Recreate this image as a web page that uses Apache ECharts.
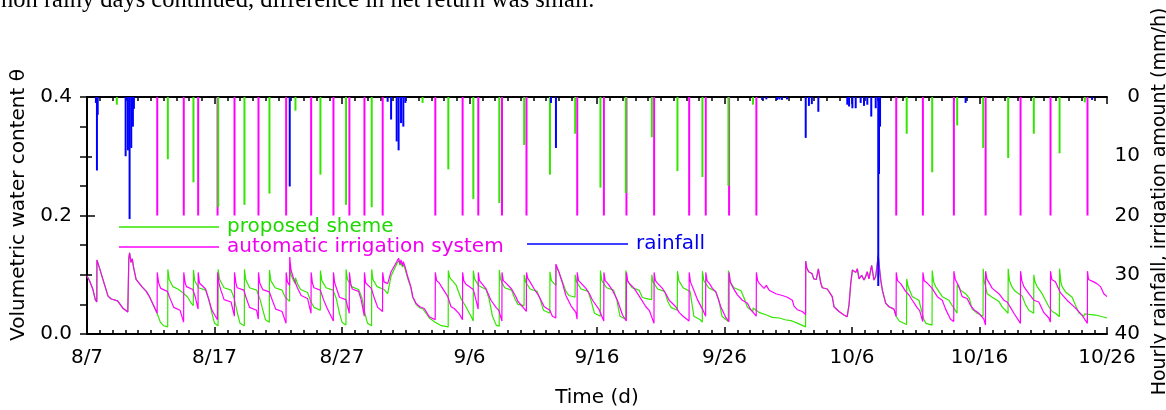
<!DOCTYPE html>
<html><head><meta charset="utf-8">
<script src="https://cdn.jsdelivr.net/npm/echarts@6/dist/echarts.min.js"></script>
<style>html,body{margin:0;padding:0;background:#fff}#c{width:1166px;height:410px}</style>
</head><body><div id="c"></div>
<script>
// x values are days since 8/7
const xTickLabels = ['8/7','8/17','8/27','9/6','9/16','9/26','10/6','10/16','10/26'];

const autoIrrigation = [[5.51,20],[7.59,20],[8.72,20],[10.24,20],[11.57,20],[13.45,20],[15.62,20],[17.58,20],[19.33,20],[20.58,20],[21.76,20],[23.19,20],[27.32,20],[29.46,20],[30.69,20],[32.55,20],[34.47,20],[38.45,20],[40.54,20],[42.31,20],[44.48,20],[47.23,20],[48.53,20],[50.36,20],[52.50,20],[63.47,20],[65.56,20],[67.99,20],[70.48,20],[73.22,20],[75.57,20],[78.47,20]];

const proposedIrrigation = [[2.34,1.3],[6.34,10.5],[8.35,14.4],[10.29,18.6],[12.35,18.2],[14.31,16.3],[16.35,2.3],[18.31,13.1],[20.32,18.2],[22.33,18.6],[26.32,1.0],[28.34,12.2],[30.30,17.2],[32.34,17.9],[34.29,8.1],[36.31,13.1],[38.29,6.2],[40.27,15.3],[42.26,16.2],[44.30,6.8],[46.31,12.5],[48.27,13.5],[50.31,15.0],[52.24,1.3],[64.29,6.2],[66.29,12.7],[68.25,4.8],[70.29,8.6],[72.25,10.3],[74.26,6.2],[76.28,9.5],[78.26,0.9]];

const rainfall = [[0.70,1.0],[0.78,12.4],[0.84,3.0],[3.03,10.0],[3.21,9.0],[3.34,20.6],[3.47,8.6],[3.60,5.0],[3.68,2.0],[15.90,15.1],[23.58,0.8],[23.85,3.8],[24.29,7.5],[24.44,9.0],[24.63,4.4],[24.81,5.0],[24.97,1.0],[36.39,1.0],[36.78,8.6],[52.95,0.5],[53.28,0.4],[54.12,0.5],[54.30,0.4],[54.50,0.5],[54.90,0.4],[56.37,6.9],[56.62,1.5],[56.85,1.2],[57.36,2.5],[59.63,1.3],[59.77,1.6],[60.03,1.9],[60.29,1.9],[60.68,1.0],[60.94,1.5],[61.20,1.3],[61.51,3.3],[61.86,1.9],[62.06,31.9],[62.12,13.0],[62.20,5.0],[68.91,1.0],[78.83,0.5]];

const thetaSharedStart = [[0,0.098],[0.2,0.090],[0.45,0.076],[0.65,0.058],[0.77,0.054],[0.78,0.125],[1.0,0.110],[1.35,0.085],[1.65,0.064],[1.9,0.059],[2.4,0.056],[2.8,0.044],[3.2,0.037],[3.28,0.128],[3.34,0.137],[3.45,0.121],[3.55,0.127],[3.65,0.113],[3.85,0.092],[4.3,0.080],[4.65,0.072],[4.9,0.063],[5.25,0.047],[5.5,0.035]];

const thetaSharedRain = [[56.37,0.123],[56.45,0.112],[56.6,0.105],[56.86,0.102],[57.0,0.093],[57.2,0.092],[57.36,0.110],[57.55,0.086],[57.67,0.078],[58.06,0.076],[58.45,0.063],[58.59,0.046],[58.98,0.038],[59.37,0.032],[59.62,0.029],[59.77,0.050],[59.9,0.085],[60.03,0.108],[60.29,0.104],[60.42,0.110],[60.55,0.093],[60.76,0.099],[60.94,0.091],[61.07,0.097],[61.2,0.105],[61.33,0.093],[61.54,0.116],[61.72,0.091],[61.86,0.097],[62.06,0.133],[62.12,0.118],[62.25,0.092],[62.38,0.074],[62.64,0.052],[62.9,0.046],[63.29,0.042],[63.46,0.030]];

const autoThetaA = [[5.51,0.104],[5.62,0.086],[5.78,0.077],[6.3,0.072],[6.55,0.058],[6.8,0.045],[7.3,0.040],[7.58,0.020],
[7.59,0.104],[7.7,0.086],[7.8,0.080],[8.3,0.075],[8.5,0.062],[8.71,0.042],
[8.72,0.104],[8.82,0.086],[9.3,0.076],[9.5,0.062],[9.8,0.040],[10.23,0.024],
[10.24,0.104],[10.35,0.086],[10.5,0.074],[10.75,0.058],[11.3,0.054],[11.56,0.030],
[11.57,0.104],[11.68,0.086],[11.78,0.078],[12.3,0.074],[12.5,0.060],[12.75,0.045],[13.3,0.040],[13.44,0.025],
[13.45,0.104],[13.55,0.086],[13.78,0.075],[14.3,0.071],[14.55,0.056],[14.8,0.042],[15.3,0.038],[15.61,0.018],
[15.62,0.104],[15.72,0.088],[15.89,0.082],[15.9,0.130],[16.0,0.108],[16.2,0.094],[16.5,0.078],[16.8,0.065],[17.3,0.060],[17.57,0.035],
[17.58,0.104],[17.68,0.086],[17.8,0.078],[18.3,0.074],[18.55,0.058],[18.8,0.045],[19.32,0.022],
[19.33,0.104],[19.43,0.086],[19.6,0.075],[19.8,0.062],[20.3,0.058],[20.57,0.035],
[20.58,0.104],[20.68,0.086],[20.8,0.076],[21.3,0.072],[21.5,0.058],[21.75,0.030],
[21.76,0.104],[21.86,0.086],[22.3,0.077],[22.5,0.063],[22.8,0.045],[23.18,0.038],
[23.19,0.104],[23.3,0.088],[23.58,0.085],[23.85,0.105],[24.29,0.122],[24.44,0.128],[24.55,0.118],[24.63,0.125],[24.75,0.115],[24.81,0.122],[24.97,0.112],[25.15,0.097],[25.4,0.080],[25.55,0.063],[25.8,0.052],[26.1,0.046],[26.45,0.043],[26.85,0.029],[27.31,0.024],
[27.32,0.104],[27.42,0.090],[27.63,0.086],[27.8,0.080],[28.3,0.063],[28.55,0.046],[28.8,0.043],[29.2,0.034],[29.45,0.024],
[29.46,0.104],[29.55,0.090],[29.72,0.084],[30.3,0.075],[30.5,0.058],[30.68,0.042],
[30.69,0.104],[30.78,0.090],[30.9,0.087],[31.3,0.076],[31.68,0.057],[32.08,0.045],[32.3,0.040],[32.54,0.022],
[32.55,0.104],[32.65,0.090],[32.86,0.086],[33.3,0.076],[33.64,0.063],[33.8,0.055],[34.16,0.046],[34.46,0.038],
[34.47,0.104],[34.57,0.094],[34.69,0.090],[35.08,0.076],[35.47,0.063],[35.86,0.046],[36.3,0.040],[36.5,0.030],[36.77,0.027],[36.78,0.118],[36.9,0.115],[37.04,0.103],[37.3,0.085],[37.56,0.065],[37.95,0.048],[38.35,0.036],[38.44,0.025],
[38.45,0.104],[38.55,0.090],[38.74,0.086],[39.13,0.077],[39.4,0.068],[39.65,0.057],[40.17,0.041],[40.53,0.022],
[40.54,0.104],[40.64,0.090],[40.82,0.086],[41.21,0.074],[41.6,0.057],[42.0,0.032],[42.3,0.022],
[42.31,0.104],[42.4,0.090],[42.52,0.086],[42.92,0.077],[43.31,0.064],[43.83,0.046],[44.1,0.040],[44.47,0.018],
[44.48,0.104],[44.58,0.090],[44.74,0.086],[45.13,0.077],[45.4,0.068],[45.66,0.057],[46.18,0.046],[46.45,0.036],[46.75,0.030],[47.22,0.022],
[47.23,0.104],[47.33,0.088],[47.48,0.080],[47.7,0.068],[47.88,0.058],[48.27,0.042],[48.52,0.030],
[48.53,0.104],[48.63,0.090],[48.79,0.086],[49.05,0.077],[49.32,0.071],[49.71,0.046],[50.1,0.028],[50.35,0.021],
[50.36,0.104],[50.46,0.088],[50.62,0.080],[51.01,0.066],[51.4,0.057],[51.8,0.052],[52.06,0.041],[52.49,0.030],
[52.5,0.104],[52.6,0.090],[52.71,0.086],[53.1,0.077],[53.2,0.076],[53.28,0.082],[53.5,0.074],[54.02,0.068],[54.54,0.065],[54.93,0.062],[55.32,0.057],[55.45,0.047],[55.71,0.041],[56.1,0.038],[56.36,0.033]];

const autoThetaB = [[63.47,0.104],[63.57,0.090],[63.82,0.085],[64.21,0.072],[64.5,0.065],[64.73,0.057],[65.12,0.044],[65.3,0.040],[65.55,0.021],
[65.56,0.104],[65.66,0.090],[65.9,0.086],[66.29,0.077],[66.69,0.063],[67.08,0.057],[67.34,0.042],[67.73,0.025],[67.98,0.021],
[67.99,0.106],[68.1,0.092],[68.39,0.080],[68.64,0.063],[69.03,0.060],[69.3,0.048],[69.56,0.041],[69.95,0.035],[70.34,0.025],[70.47,0.015],
[70.48,0.106],[70.58,0.093],[70.73,0.090],[71.0,0.077],[71.52,0.068],[71.91,0.057],[72.17,0.054],[72.45,0.044],[72.7,0.035],[73.21,0.018],
[73.22,0.106],[73.32,0.090],[73.48,0.080],[73.87,0.068],[74.26,0.057],[74.65,0.054],[75.05,0.036],[75.44,0.027],[75.56,0.020],
[75.57,0.106],[75.67,0.092],[75.95,0.088],[76.34,0.070],[76.86,0.057],[77.37,0.047],[77.7,0.040],[78.03,0.032],[78.46,0.018],
[78.47,0.106],[78.55,0.092],[78.7,0.091],[78.96,0.088],[79.2,0.085],[79.49,0.080],[79.75,0.068],[80,0.063]];

const proposedThetaA = [[5.55,0.032],[5.75,0.020],[6.0,0.014],[6.33,0.012],
[6.34,0.109],[6.45,0.092],[6.73,0.080],[7.12,0.076],[7.5,0.070],[7.9,0.062],[8.17,0.052],[8.34,0.048],
[8.35,0.108],[8.45,0.090],[8.75,0.078],[9.3,0.074],[9.55,0.058],[9.8,0.035],[10.0,0.018],[10.28,0.014],
[10.29,0.109],[10.4,0.092],[10.75,0.078],[11.3,0.074],[11.55,0.060],[11.8,0.035],[12.0,0.018],[12.34,0.014],
[12.35,0.109],[12.45,0.092],[12.75,0.078],[13.3,0.074],[13.55,0.060],[13.8,0.040],[14.0,0.024],[14.3,0.020],
[14.31,0.108],[14.42,0.090],[14.75,0.078],[15.3,0.074],[15.55,0.062],[15.89,0.055],
[15.9,0.118],[16.0,0.100],[16.2,0.090],[16.34,0.085],[16.35,0.095],[16.5,0.085],[16.75,0.075],[17.3,0.070],[17.55,0.055],[17.8,0.045],[18.3,0.040],
[18.31,0.107],[18.42,0.090],[18.75,0.078],[19.3,0.074],[19.55,0.060],[19.8,0.035],[20.0,0.020],[20.31,0.015],
[20.32,0.109],[20.43,0.092],[20.75,0.080],[21.3,0.075],[21.55,0.062],[21.8,0.035],[22.0,0.018],[22.32,0.014],
[22.33,0.109],[22.43,0.092],[22.75,0.080],[23.3,0.075],[23.58,0.068],[23.85,0.098],[24.29,0.118],[24.44,0.124],[24.55,0.116],[24.63,0.121],[24.75,0.113],[24.81,0.118],[24.97,0.108],[25.15,0.094],[25.4,0.078],[25.55,0.062],[25.8,0.050],[26.1,0.044],[26.32,0.043],[26.45,0.042],[26.85,0.027],[27.3,0.020],[27.8,0.014],[28.33,0.012],
[28.34,0.107],[28.45,0.095],[28.55,0.093],[28.94,0.083],[29.33,0.060],[29.72,0.046],[30.12,0.030],[30.29,0.022],
[30.30,0.107],[30.4,0.093],[30.7,0.082],[31.3,0.075],[31.55,0.058],[31.8,0.030],[32.1,0.015],[32.33,0.013],
[32.34,0.108],[32.44,0.092],[32.75,0.078],[33.3,0.074],[33.55,0.060],[33.8,0.050],[34.28,0.048],
[34.29,0.100],[34.4,0.088],[34.75,0.076],[35.3,0.072],[35.55,0.058],[35.8,0.040],[36.3,0.035],
[36.31,0.105],[36.42,0.090],[36.77,0.082],[36.78,0.115],[36.85,0.118],[37.0,0.105],[37.3,0.088],[37.56,0.072],[37.8,0.065],[38.28,0.062],
[38.29,0.100],[38.4,0.088],[38.75,0.076],[39.3,0.072],[39.55,0.055],[39.8,0.035],[40.26,0.030],
[40.27,0.107],[40.38,0.090],[40.75,0.078],[41.3,0.074],[41.55,0.058],[41.8,0.030],[42.25,0.025],
[42.26,0.107],[42.37,0.090],[42.75,0.078],[43.3,0.074],[43.55,0.062],[43.8,0.060],[44.29,0.058],
[44.30,0.100],[44.4,0.088],[44.75,0.076],[45.3,0.072],[45.55,0.055],[45.8,0.045],[46.3,0.040],
[46.31,0.106],[46.42,0.090],[46.75,0.078],[47.3,0.072],[47.6,0.030],[48.1,0.024],[48.26,0.020],
[48.27,0.106],[48.38,0.090],[48.75,0.078],[49.3,0.072],[49.55,0.058],[49.8,0.030],[50.3,0.021],
[50.31,0.107],[50.42,0.088],[50.75,0.078],[51.3,0.073],[51.55,0.060],[51.8,0.045],[52.23,0.038],
[52.24,0.044],[52.5,0.040],[52.75,0.036],[53.3,0.032],[53.75,0.028],[54.3,0.027],[54.75,0.024],[55.3,0.022],[55.75,0.018],[56.36,0.012]];

const proposedThetaB = [[63.7,0.022],[64.28,0.016],[64.29,0.093],[64.4,0.080],[64.73,0.063],[65.25,0.057],[65.64,0.024],[65.8,0.018],[66.28,0.015],
[66.29,0.107],[66.4,0.088],[66.56,0.080],[67.08,0.063],[67.6,0.057],[67.8,0.050],[68.24,0.035],
[68.25,0.083],[68.52,0.074],[68.91,0.068],[69.2,0.060],[69.43,0.042],[69.75,0.036],[70.28,0.030],
[70.29,0.110],[70.36,0.090],[70.6,0.068],[71.0,0.062],[71.52,0.055],[71.8,0.045],[72.04,0.040],[72.24,0.035],
[72.25,0.110],[72.35,0.090],[72.56,0.079],[72.8,0.072],[73.34,0.064],[73.6,0.050],[73.87,0.040],[74.25,0.035],
[74.26,0.100],[74.35,0.088],[74.52,0.080],[74.91,0.068],[75.44,0.046],[75.7,0.038],[75.96,0.035],[76.27,0.029],
[76.28,0.110],[76.38,0.088],[76.48,0.080],[76.75,0.071],[77.27,0.062],[77.5,0.050],[77.79,0.036],[78.18,0.030],[78.26,0.034],[78.6,0.033],[79.1,0.032],[79.5,0.030],[80,0.027]];

const autoTheta = thetaSharedStart.concat(autoThetaA, thetaSharedRain, autoThetaB);
const proposedTheta = thetaSharedStart.concat(proposedThetaA, thetaSharedRain, proposedThetaB);

const GREEN = '#33e600', MAGENTA = '#ff00ff', BLUE = '#0000ff';
const FONT = '"DejaVu Sans", "Liberation Sans", Arial, sans-serif';

const chart = echarts.init(document.getElementById('c'), null, {renderer: 'canvas'});
const tickCommon = {
  axisLine: {show: true, lineStyle: {color: '#000', width: 2}},
  splitLine: {show: false}
};
chart.setOption({
  animation: false,
  backgroundColor: '#fff',
  textStyle: {fontFamily: FONT},
  grid: {left: 87, right: 59, top: 97, bottom: 76, containLabel: false, outerBoundsMode: 'none'},
  graphic: [{
    type: 'text', x: 1, y: 1,
    style: {text: 'non rainy days continued, difference in net return was small.', font: '24.5px "Liberation Serif", "Times New Roman", serif', fill: '#000', verticalAlign: 'middle'}
  }],
  legend: [{
    orient: 'vertical', left: 119, top: 217, padding: 0, itemWidth: 100, itemHeight: 1.5, itemGap: 0,
    icon: 'rect', selectedMode: false,
    textStyle: {fontSize: 20, fontFamily: FONT, lineHeight: 20, padding: [0, 0, 0, 3]},
    data: [{name: 'proposed sheme', textStyle: {color: '#1ed900'}}, {name: 'automatic irrigation system', textStyle: {color: '#f000f0'}}]
  }, {
    orient: 'horizontal', left: 527, top: 234, padding: 0, itemWidth: 101, itemHeight: 1.5,
    icon: 'rect', selectedMode: false,
    textStyle: {fontSize: 20, fontFamily: FONT, lineHeight: 20, padding: [0, 0, 0, 3]},
    data: [{name: 'rainfall', textStyle: {color: '#0000ee'}}]
  }],
  xAxis: [{
    type: 'value', position: 'bottom', min: 0, max: 80, interval: 10,
    ...tickCommon,
    axisTick: {show: true, inside: true, length: 7, lineStyle: {color: '#000', width: 1.5}},
    minorTick: {show: true, splitNumber: 10, length: 4, lineStyle: {color: '#000', width: 1.5}},
    axisLabel: {show: true, color: '#000', fontSize: 20, margin: 14, formatter: v => xTickLabels[Math.round(v / 10)]},
    name: 'Time (d)', nameLocation: 'middle', nameGap: 54,
    nameTextStyle: {color: '#000', fontSize: 20}
  }, {
    type: 'value', position: 'top', min: 0, max: 80, interval: 10,
    ...tickCommon,
    axisTick: {show: true, inside: true, length: 7, lineStyle: {color: '#000', width: 1.5}},
    minorTick: {show: true, splitNumber: 10, length: 4, lineStyle: {color: '#000', width: 1.5}},
    axisLabel: {show: false}
  }],
  yAxis: [{
    type: 'value', position: 'left', min: 0, max: 0.4, interval: 0.2,
    ...tickCommon,
    axisTick: {show: true, inside: true, length: 8, lineStyle: {color: '#000', width: 1.5}},
    minorTick: {show: true, splitNumber: 2, length: 5, lineStyle: {color: '#000', width: 1.5}},
    axisLabel: {color: '#000', fontSize: 20, margin: 15, formatter: v => v.toFixed(1)},
    name: 'Volumetric water content θ', nameLocation: 'middle', nameGap: 53, nameRotate: 90,
    nameTextStyle: {color: '#000', fontSize: 20, padding: [0, 0, 0, 21]}
  }, {
    type: 'value', position: 'right', min: 0, max: 40, interval: 10, inverse: true,
    ...tickCommon,
    axisTick: {show: true, inside: true, length: 7, lineStyle: {color: '#000', width: 1.5}},
    minorTick: {show: true, splitNumber: 2, length: 7, lineStyle: {color: '#000', width: 1.5}},
    axisLabel: {color: '#000', fontSize: 20, margin: 33, align: 'right'},
    name: 'Hourly rainfall, irrigation amount (mm/h)', nameLocation: 'middle', nameGap: 43, nameRotate: 90,
    nameTextStyle: {color: '#000', fontSize: 19, padding: [0, 0, 0, 28]}
  }],
  series: [
    {name: 'automatic irrigation system', type: 'bar', xAxisIndex: 0, yAxisIndex: 1, data: autoIrrigation,
     barWidth: 2, barGap: '-100%', itemStyle: {color: MAGENTA}, z: 2},
    {name: 'proposed sheme', type: 'bar', xAxisIndex: 0, yAxisIndex: 1, data: proposedIrrigation,
     barWidth: 2, barGap: '-100%', itemStyle: {color: GREEN}, z: 2},
    {name: 'proposed sheme', type: 'line', xAxisIndex: 0, yAxisIndex: 0, data: proposedTheta,
     symbol: 'none', lineStyle: {color: GREEN, width: 1.2}, itemStyle: {color: GREEN}, z: 3},
    {name: 'automatic irrigation system', type: 'line', xAxisIndex: 0, yAxisIndex: 0, data: autoTheta,
     symbol: 'none', lineStyle: {color: MAGENTA, width: 1.2}, itemStyle: {color: MAGENTA}, z: 4},
    {name: 'rainfall', type: 'bar', xAxisIndex: 0, yAxisIndex: 1, data: rainfall,
     barWidth: 2, barGap: '-100%', itemStyle: {color: BLUE}, z: 5}
  ]
});
</script>
</body></html>
